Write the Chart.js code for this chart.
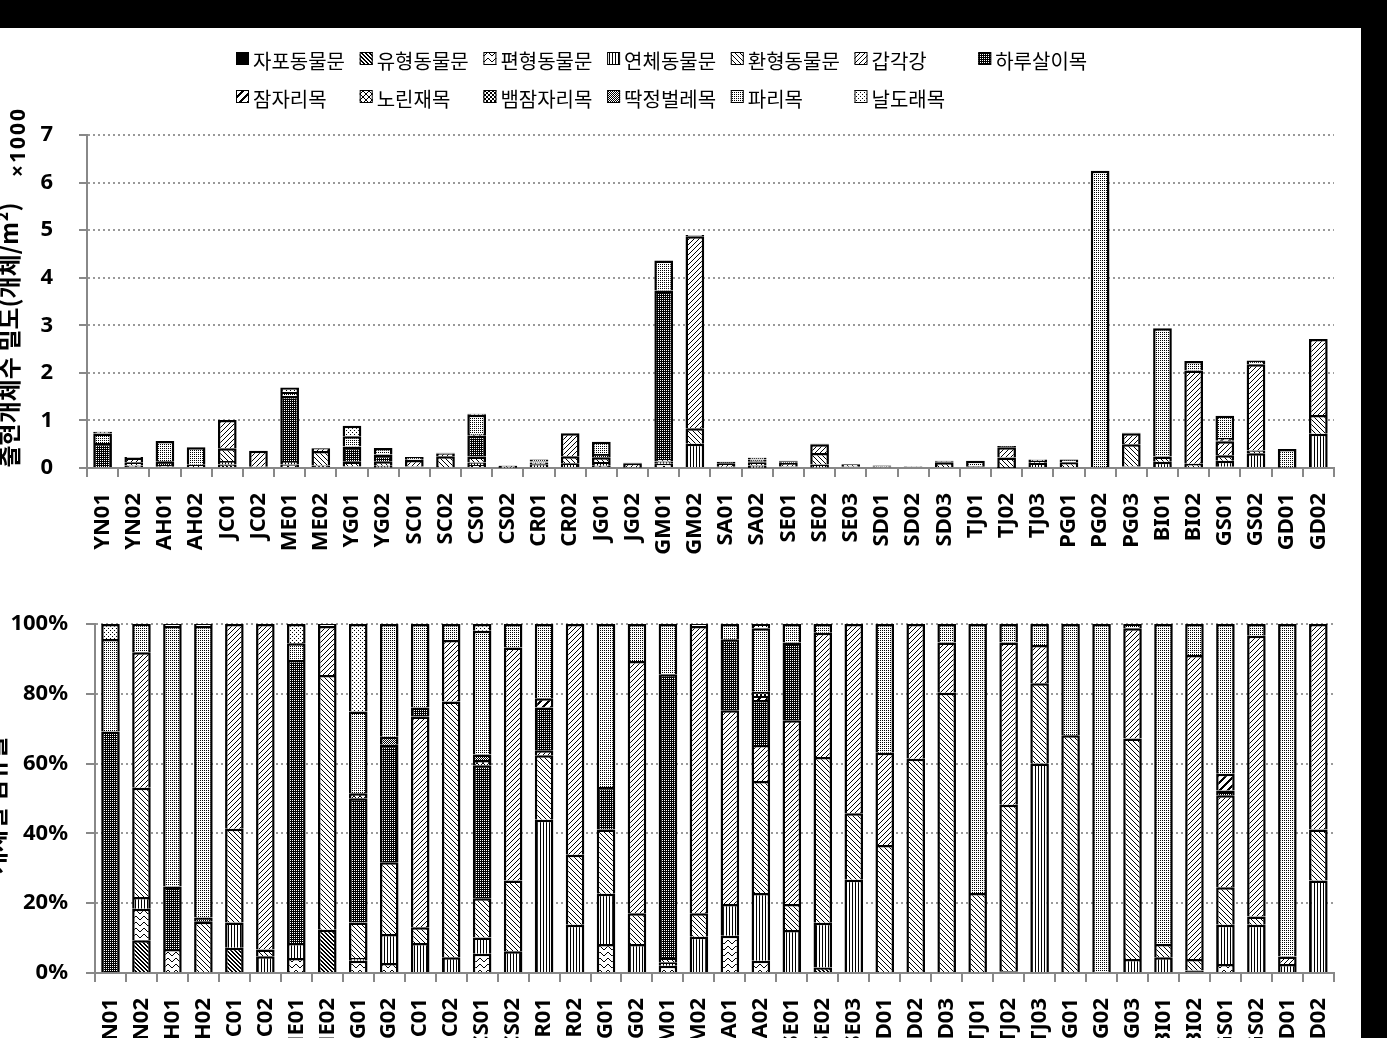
<!DOCTYPE html>
<html>
<head>
<meta charset="utf-8">
<script src="https://cdn.jsdelivr.net/npm/chart.js@4.4.0/dist/chart.umd.min.js"></script>
<style>
html, body { margin: 0; padding: 0; background: #000; overflow: hidden; width: 1387px; height: 1038px; }
#paper { position: absolute; left: 0; top: 28px; width: 1361px; height: 1010px; background: #fff; }
#c1 { position: absolute; left: 0; top: 28px; }
#c2 { position: absolute; left: 0; top: 568px; }
</style>
</head>
<body>
<div id="paper"></div>
<canvas id="c1" width="1361" height="540"></canvas>
<canvas id="c2" width="1361" height="520"></canvas>
<script>
// sites along the x axis
const sites = ['YN01','YN02','AH01','AH02','JC01','JC02','ME01','ME02','YG01','YG02',
  'SC01','SC02','CS01','CS02','CR01','CR02','JG01','JG02','GM01','GM02',
  'SA01','SA02','SE01','SE02','SE03','SD01','SD02','SD03','TJ01','TJ02',
  'TJ03','PG01','PG02','PG03','BI01','BI02','GS01','GS02','GD01','GD02'];

// total density (x1000 ind./m2)
const totals = [0.76,0.23,0.57,0.44,1.01,0.36,1.69,0.42,0.89,0.42,
  0.23,0.32,1.14,0.05,0.18,0.73,0.55,0.11,4.36,4.90,
  0.13,0.22,0.15,0.51,0.08,0.05,0.03,0.15,0.15,0.46,
  0.18,0.18,6.25,0.74,2.94,2.25,1.10,2.26,0.40,2.71];

// share of each taxon (%)
const cnidaria = [0,0,0,0,0,0,0,0,0,0, 0,0,0,0,0,0,0,0,0,0, 0,0,0,0,0,0,0,0,0,0.5, 0,0,0,0,0,0.7,0,0,0,0];
const nemertea = [0,9.4,0,0,7.2,0,0,12.4,0,0, 0,0,0,0,0,0,0,0,0,0, 0,0,0,1.6,0,0,0,0,0,0, 0,0,0,0,0,0,0,0,0,0];
const platyhel = [0,9.0,6.9,0,0,0,4.3,0,3.5,2.9, 0,0,5.5,0,0,0,8.3,0,2.1,0, 10.7,3.5,0,0,0,0,0,0,0,0, 0,0,0,0,0,0,2.6,0,0,0];
const mollusca = [0,3.4,0,0,7.3,4.8,4.3,0,0.8,8.3, 8.6,4.5,4.7,6.2,43.9,13.8,14.4,8.3,1.0,10.4, 9.1,19.4,12.3,12.8,26.7,0,0,0,0,0, 60.0,0,0,4.0,4.5,0,11.2,13.8,2.6,26.5];
const annelida = [0,31.3,0,14.7,26.8,1.9,0,73.0,10.2,20.5, 4.5,73.3,11.2,20.3,18.5,20.1,18.4,8.8,1.2,6.7, 0,32.1,7.5,47.5,19.1,36.7,61.4,80.3,22.9,47.7, 23.0,68.1,0,63.2,3.8,3.3,10.8,2.4,0,14.6];
const crustacea = [0,38.8,0,0,58.7,93.3,0,14.0,0,0, 60.4,17.6,0,66.8,1.4,66.1,0,72.3,0,82.3, 55.5,10.3,52.6,35.6,54.2,26.4,38.6,14.4,0,46.5, 11.0,0,0,31.6,0,87.1,26.3,80.4,2.1,58.9];
const ephemeroptera = [69.2,0,17.9,1.2,0,0,81.1,0,35.6,33.7, 2.6,0,38.1,0,12.3,0,12.2,0,81.3,0, 20.3,12.9,22.3,0,0,0,0,0,0,0, 0,0,0,0,0,0,1.4,0,0,0];
const odonata = [0,0,0,0,0,0,0,0,0,0, 0,0,0,0,2.6,0,0,0,0,0, 0,1.2,0,0,0,0,0,0,0,0, 0,0,0,0,0,0,4.8,0,0,0];
const hemiptera = [0,0,0,0,0,0,0,0,1.4,0, 0,0,1.5,0,0,0,0,0,0,0, 0,0,0,0,0,0,0,0,0,0, 0,0,0,0,0,0,0,0,0,0];
const megaloptera = [0,0,0,0,0,0,0,0,0,0, 0,0,0,0,0,0,0,0,0,0, 0,1.2,0,0,0,0,0,0,0,0, 0,0,0,0,0,0,0,0,0,0];
const coleoptera = [0,0,0,0,0,0,0,0,0,2.3, 0,0,1.6,0,0,0,0,0,0,0, 0,0,0,0,0,0,0,0,0,0, 0,0,0,0,0,0,0,0,0,0];
const diptera = [26.5,8.2,74.6,83.5,0,0,4.8,0,23.4,32.3, 23.9,4.6,35.5,6.7,21.3,0,46.7,10.6,14.4,0, 4.4,18.2,5.3,2.5,0,36.9,0,5.3,77.1,5.3, 6.0,31.9,100,1.2,91.7,8.9,42.9,3.4,95.3,0];
const trichoptera = [4.3,0,0.6,0.6,0,0,5.5,0.6,25.1,0, 0,0,1.9,0,0,0,0,0,0,0.6, 0,1.2,0,0,0,0,0,0,0,0, 0,0,0,0,0,0,0,0,0,0];

const taxa = ['자포동물문','유형동물문','편형동물문','연체동물문','환형동물문','갑각강','하루살이목',
  '잠자리목','노린재목','뱀잠자리목','딱정벌레목','파리목','날도래목'];
const shares = [cnidaria, nemertea, platyhel, mollusca, annelida, crustacea, ephemeroptera,
  odonata, hemiptera, megaloptera, coleoptera, diptera, trichoptera];

const yTicksTop = [0,1,2,3,4,5,6,7];
const yTicksBottom = [0,20,40,60,80,100];

// black & white hatch fills
function tile(w, h, bg, fg, on) {
  const c = document.createElement('canvas');
  c.width = w; c.height = h;
  const x = c.getContext('2d');
  x.fillStyle = bg; x.fillRect(0, 0, w, h);
  x.fillStyle = fg;
  for (let i = 0; i < w; i++) for (let j = 0; j < h; j++) if (on(i, j)) x.fillRect(i, j, 1, 1);
  return x.createPattern(c, 'repeat');
}
const W = '#fff', K = '#000';
const wave = [0,1,2,3,3,2,1,0];
const fills = [
  '#000',
  tile(4, 4, W, K, (i, j) => ((i - j + 8) % 4) < 2),
  tile(8, 6, W, K, (i, j) => j === wave[i]),
  tile(3, 1, W, K, (i) => i === 0),
  tile(5, 5, W, K, (i, j) => i === j),
  tile(5, 5, W, K, (i, j) => i + j === 4),
  tile(2, 2, K, W, (i, j) => i === 0 && j === 0),
  tile(8, 8, W, K, (i, j) => ((i + j) % 8) < 3),
  tile(6, 6, W, K, (i, j) => i === j || i + j === 5),
  tile(4, 4, W, K, (i, j) => (i < 2) !== (j < 2)),
  tile(2, 2, W, K, (i, j) => i !== j),
  tile(2, 2, W, K, (i, j) => i === 0 && j === 0),
  tile(4, 4, W, K, (i, j) => (i === 0 && j === 0) || (i === 2 && j === 2))
];

const tickFont = { family: '"Noto Sans", sans-serif', size: 22, weight: 'bold' };

function makeSets(top) {
  return taxa.map((name, k) => ({
    label: name,
    data: shares[k].map((p, i) => top ? p * totals[i] / 100 : p),
    backgroundColor: fills[k],
    borderColor: '#000',
    borderWidth: 2.5,
    barPercentage: 0.6,
    categoryPercentage: 1.0
  }));
}

const legendPlugin = {
  id: 'gridLegend',
  afterDraw(chart) {
    const ctx = chart.ctx;
    ctx.save();
    ctx.font = '20px "Noto Sans CJK KR"';
    ctx.textBaseline = 'middle';
    chart.data.datasets.forEach((ds, k) => {
      const row = k < 7 ? 0 : 1;
      const col = k < 7 ? k : k - 7;
      const x = 236 + col * 123.7;
      const y = row === 0 ? 30 : 68;
      ctx.fillStyle = ds.backgroundColor;
      ctx.fillRect(x, y - 6, 13, 13);
      ctx.strokeStyle = '#000';
      ctx.lineWidth = 1;
      ctx.strokeRect(x + 0.5, y - 5.5, 12, 12);
      ctx.fillStyle = '#000';
      ctx.fillText(ds.label, x + 17, y + 3);
    });
    ctx.restore();
  }
};

function sideText(items) {
  return {
    id: 'sideText',
    afterDraw(chart) {
      const ctx = chart.ctx;
      items.forEach(t => {
        ctx.save();
        ctx.translate(t.x, t.y);
        ctx.rotate(-Math.PI / 2);
        ctx.font = t.font;
        if (t.spacing) ctx.letterSpacing = t.spacing;
        ctx.fillStyle = '#000';
        ctx.textAlign = 'center';
        ctx.textBaseline = 'middle';
        ctx.fillText(t.text, 0, 0);
        ctx.restore();
      });
    }
  };
}

function xAxis(h) {
  return {
    stacked: true,
    ticks: { font: tickFont, color: '#000', minRotation: 90, maxRotation: 90, autoSkip: false, padding: 16 },
    grid: { drawOnChartArea: false, offset: true, tickLength: 9, color: '#888', lineWidth: 2 },
    border: { color: '#888', width: 2 },
    afterFit: s => { s.height = h; }
  };
}

new Chart(document.getElementById('c1'), {
  type: 'bar',
  data: { labels: sites, datasets: makeSets(true) },
  options: {
    responsive: false,
    animation: false,
    layout: { padding: { top: 107, right: 21, left: 0, bottom: 0 } },
    plugins: { legend: { display: false }, tooltip: { enabled: false } },
    scales: {
      x: xAxis(100),
      y: {
        stacked: true,
        min: 0, max: 7,
        afterBuildTicks: s => { s.ticks = yTicksTop.map(v => ({ value: v })); },
        ticks: { font: tickFont, color: '#000', padding: 26 },
        grid: { color: '#999', lineWidth: 2, tickLength: 8, tickColor: '#888', tickBorderDash: [] },
        border: { color: '#888', width: 2, dash: [2, 3] },
        afterFit: s => { s.width = 87; }
      }
    }
  },
  plugins: [legendPlugin, sideText([
    { text: '출현개체수 밀도(개체/m²)', x: 9, y: 307, font: 'bold 24px "Noto Sans CJK KR"' },
    { text: '×1000', x: 19, y: 114, font: 'bold 21px "Noto Sans"', spacing: '2px' }
  ])]
});

new Chart(document.getElementById('c2'), {
  type: 'bar',
  data: { labels: sites, datasets: makeSets(false) },
  options: {
    responsive: false,
    animation: false,
    layout: { padding: { top: 56, right: 21, left: 0, bottom: 0 } },
    plugins: { legend: { display: false }, tooltip: { enabled: false } },
    scales: {
      x: xAxis(115),
      y: {
        stacked: true,
        min: 0, max: 100,
        afterBuildTicks: s => { s.ticks = yTicksBottom.map(v => ({ value: v })); },
        ticks: { font: tickFont, color: '#000', padding: 18, callback: v => v + '%' },
        grid: { color: '#999', lineWidth: 2, tickLength: 9, tickColor: '#888', tickBorderDash: [] },
        border: { color: '#888', width: 2, dash: [2, 3] },
        afterFit: s => { s.width = 95; }
      }
    }
  },
  plugins: [sideText([
    { text: '개체별 점유율', x: -4, y: 237, font: 'bold 24px "Noto Sans CJK KR"' }
  ])]
});
</script>
</body>
</html>
